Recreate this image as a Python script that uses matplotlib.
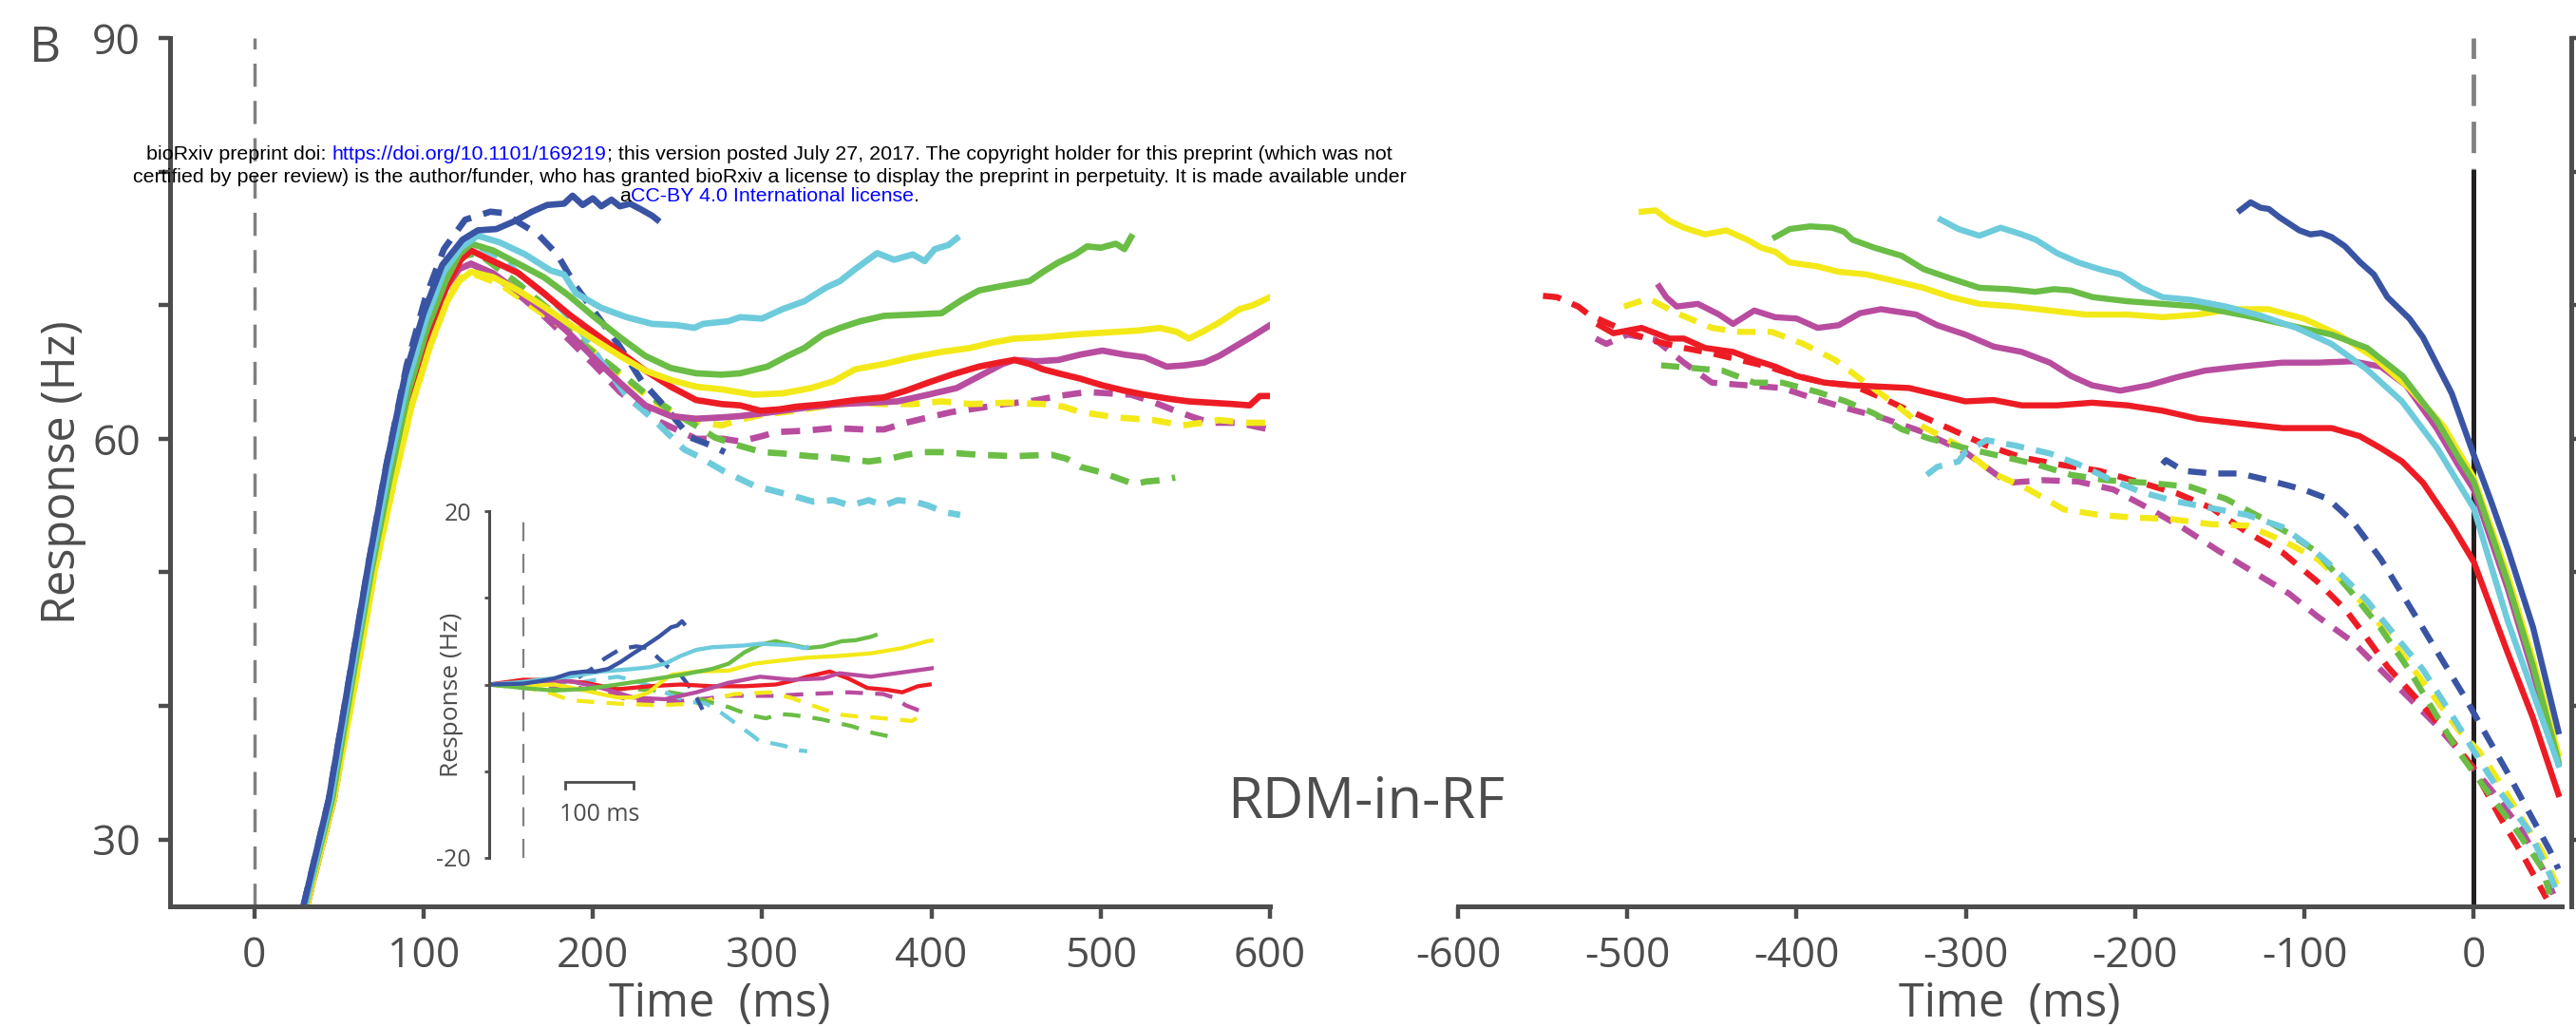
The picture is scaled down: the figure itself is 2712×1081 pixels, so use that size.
import matplotlib
matplotlib.use('Agg')
import matplotlib.pyplot as plt
from matplotlib.transforms import IdentityTransform
import numpy as np

plt.rcParams['axes.unicode_minus'] = False
plt.rcParams['font.family'] = ['Open Sans', 'DejaVu Sans']

GREY = '#4d4d4d'
BLUE = '#3a54a4'
CYAN = '#6dcbdc'
GREEN = '#6abd45'
YELLOW = '#f3e919'
MAGENTA = '#b84c9f'
RED = '#ed1c24'

# ---- onset aligned (left panel): (time ms, response Hz)
on_blue_solid = [(29, 25), (44, 33), (56, 42), (67, 50.3), (78, 58), (89, 64.7), (100, 69.4), (111, 73), (123, 74.9),
                 (132, 75.6), (143, 75.7), (154, 76.3), (164, 77), (173, 77.5), (183, 77.6), (188, 78.2), (194, 77.5),
                 (200, 78), (205, 77.4), (211, 77.9), (216, 77.4), (222, 77.6), (228, 77.2), (235, 76.7), (238, 76.4)]
on_blue_dash = [(29, 25), (44, 33), (56, 42), (67, 50.3), (78, 58), (90, 65.5), (101, 70.5), (112, 74.2), (124.6, 76.4),
                (139.5, 77.0), (147, 76.9), (160, 75.9), (167.6, 75.3), (179, 73.8), (190, 71.4), (205, 68.8),
                (216, 66.9), (229, 64.3), (244, 62.2), (257.5, 60.1), (270, 59.5), (278, 59.0)]
on_cyan_solid = [(30, 25), (45, 33), (57, 42), (68, 50), (79, 57.5), (90, 64), (101, 68.8), (112, 72.5), (122, 74.3),
                 (132, 75.2), (145, 74.7), (160, 73.8), (175, 72.6), (183, 72.3), (190, 70.9), (205, 69.8), (220, 69.1),
                 (235, 68.6), (250, 68.5), (260, 68.3), (265, 68.6), (280, 68.8), (287, 69.1), (300, 69.0),
                 (312, 69.7), (325, 70.3), (337.5, 71.3), (346, 71.8), (355, 72.7), (368, 73.9), (378, 73.4),
                 (389, 73.8), (396, 73.3), (402, 74.2), (410, 74.5), (415, 75.0)]
on_cyan_dash = [(30, 25), (45, 33), (57, 42), (68, 50), (79, 57.5), (90, 63.8), (101, 68.5), (112, 72.0), (122, 74.0),
                (132, 74.4), (145, 73.6), (156, 72.4), (175, 70.5), (190, 68.6), (205, 65.8), (220, 63.2),
                (237, 61.3), (254, 59.2), (262, 58.7), (277, 57.6), (295, 56.5), (316, 55.8), (330, 55.3),
                (342, 55.4), (352, 55.0), (363, 55.4), (372, 55.0), (380, 55.4), (390, 55.3), (398, 55.0),
                (408, 54.5), (417, 54.3)]
on_green_solid = [(30, 25), (46, 33), (58, 42), (69, 50), (80, 57), (91, 63.5), (102, 68.2), (113, 71.8), (121, 73.8),
                  (128, 74.6), (141, 74.1), (156, 73.1), (171, 72.1), (186, 70.7), (201, 69.1), (216, 67.6),
                  (231, 66.2), (246, 65.3), (261, 64.9), (276, 64.8), (287, 64.9), (303, 65.4), (315, 66.2),
                  (325, 66.8), (336, 67.8), (346, 68.3), (358, 68.8), (372, 69.2), (390, 69.3), (406, 69.4),
                  (418, 70.4), (428, 71.1), (440, 71.4), (458, 71.8), (466, 72.5), (475, 73.2), (485, 73.8),
                  (492, 74.4), (500, 74.3), (509, 74.6), (514, 74.2), (518, 75.1)]
on_green_dash = [(30, 25), (46, 33), (58, 42), (69, 50), (80, 57), (91, 63.5), (102, 68.2), (113, 71.8), (121, 73.6),
                 (132, 73.9), (156, 71.6), (175, 69.6), (194, 67.1), (212.5, 65.3), (231, 63.4), (250, 61.8),
                 (262, 60.9), (272, 60.1), (286, 59.5), (300, 59.0), (312, 58.9), (328, 58.7), (342, 58.6),
                 (363, 58.3), (375, 58.5), (385, 58.8), (396, 59.0), (406, 59.0), (428, 58.8), (449, 58.7),
                 (471, 58.8), (480, 58.5), (488, 57.9), (500, 57.5), (509, 57.1), (520, 56.6), (527, 56.8),
                 (536, 56.9), (544, 57.1)]
on_yellow_solid = [(31, 25), (47, 33), (60, 42), (71, 50), (82, 56.5), (93, 62.5), (104, 67), (114, 70.3), (121, 71.8),
                   (128, 72.5), (141, 72.1), (156, 71.1), (171, 69.9), (186, 68.6), (201, 67.4), (216, 66.2),
                   (231, 65.1), (246, 64.4), (261, 63.9), (276, 63.7), (295, 63.3), (312, 63.4), (329, 63.8),
                   (342, 64.3), (355, 65.2), (372, 65.6), (389, 66.1), (406, 66.5), (423, 66.8), (436, 67.2),
                   (449, 67.5), (466, 67.6), (484, 67.8), (496, 67.9), (509, 68.0), (522, 68.1), (535, 68.3),
                   (545, 68.0), (552, 67.5), (560, 68.0), (570, 68.7), (582, 69.7), (590, 70.0), (600, 70.6)]
on_yellow_dash = [(31, 25), (47, 33), (60, 42), (71, 50), (82, 56.5), (93, 62.5), (104, 67), (114, 70.5), (121, 72.0),
                  (128, 72.4), (145, 71.6), (164, 69.9), (183, 68.3), (199, 66.7), (216, 64.8), (235, 62.9),
                  (254, 61.5), (262, 61.3), (276, 61.0), (286, 61.4), (300, 61.8), (320, 62.1), (340, 62.5),
                  (355, 62.7), (372, 62.6), (389, 62.6), (406, 62.8), (423, 62.6), (445, 62.7), (466, 62.6),
                  (478, 62.4), (488, 62.0), (499, 61.8), (509, 61.6), (520, 61.5), (531, 61.4), (540, 61.2),
                  (548, 61.0), (560, 61.2), (570, 61.4), (578, 61.3), (587, 61.2), (600, 61.2)]
on_red_solid = [(31, 25), (46, 33), (58, 42), (70, 50), (81, 57), (92, 63.3), (103, 68), (114, 71.5), (122, 73.4),
                (128, 74.1), (141, 73.3), (156, 72.4), (171, 70.9), (186, 69.3), (201, 67.9), (216, 66.5),
                (231, 65.1), (246, 63.9), (261, 62.9), (276, 62.6), (287, 62.5), (299, 62.1), (310, 62.2),
                (320, 62.4), (338, 62.6), (355, 62.9), (372, 63.1), (385, 63.6), (398, 64.2), (412, 64.8),
                (428, 65.4), (440, 65.7), (449, 65.9), (458, 65.6), (466, 65.2), (475, 64.9), (488, 64.5),
                (501, 64.0), (514, 63.6), (526, 63.3), (540, 63.0), (552, 62.8), (565, 62.7), (578, 62.6),
                (588, 62.5), (594, 63.2), (600, 63.2)]
on_magenta_solid = [(31, 25), (47, 33), (59, 42), (70, 50), (81, 57), (92, 63), (103, 67.8), (113, 71.3), (121, 72.7),
                    (128, 73.1), (141, 72.4), (156, 71.0), (171, 69.6), (186, 67.9), (201, 66.0), (216, 64.2),
                    (231, 62.5), (246, 61.7), (261, 61.5), (276, 61.6), (287, 61.7), (300, 61.9), (312, 62.1),
                    (330, 62.4), (346, 62.6), (363, 62.7), (380, 62.8), (398, 63.3), (415, 63.8), (430, 64.8),
                    (442, 65.6), (449, 65.9), (462, 65.8), (475, 65.9), (488, 66.3), (501, 66.6), (514, 66.3),
                    (526, 66.1), (539, 65.4), (550, 65.5), (561, 65.7), (570, 66.2), (578, 66.8), (590, 67.7),
                    (600, 68.5)]
on_magenta_dash = [(31, 25), (47, 33), (59, 42), (70, 50), (81, 57), (92, 63), (103, 67.8), (113, 71.3), (121, 72.7),
                   (128, 73.1), (141, 72.3), (156, 70.8), (171, 69.2), (186, 67.4), (201, 65.5), (216, 63.5),
                   (239, 61.3), (261, 60.0), (277, 60.0), (287, 59.8), (300, 60.2), (308, 60.5), (325, 60.6),
                   (342, 60.8), (360, 60.7), (372, 60.7), (385, 61.2), (398, 61.6), (412, 62.0), (428, 62.3),
                   (443, 62.6), (458, 62.8), (475, 63.2), (492, 63.5), (505, 63.4), (518, 63.3), (530, 62.8),
                   (544, 62.1), (555, 61.6), (565, 61.2), (582, 61.2), (592, 60.9), (600, 60.7)]

# ---- saccade aligned (right panel)
sa_blue_solid = [(-138, 77.1), (-131.8, 77.7), (-126, 77.3), (-121, 77.2), (-115, 76.6), (-109, 76.1), (-103, 75.6),
                 (-96.5, 75.3), (-90, 75.4), (-84, 75.1), (-76, 74.4), (-67, 73.2), (-59, 72.3), (-51, 70.6),
                 (-38, 69.0), (-30, 67.6), (-13, 63.4), (0, 58.8), (10, 55.4), (20, 51.8), (35, 45.9), (50, 38.1)]
sa_green_solid = [(-412.6, 75.1), (-404, 75.7), (-392, 75.9), (-379, 75.8), (-372, 75.5), (-367, 74.9), (-354, 74.3),
                  (-338, 73.7), (-325, 72.7), (-309, 72.0), (-292, 71.3), (-275, 71.2), (-259, 71.0), (-248, 71.2),
                  (-238, 71.1), (-225, 70.6), (-205, 70.3), (-184, 70.1), (-163, 69.9), (-134, 69.2), (-109, 68.5),
                  (-84, 67.8), (-63, 66.8), (-42, 64.7), (-22, 61.4), (-9, 58.6), (0, 56.8), (20, 49.3), (35, 43.0),
                  (50, 35.9)]
sa_yellow_solid = [(-491.6, 77.0), (-483.3, 77.1), (-474.9, 76.3), (-466.6, 75.8), (-454.1, 75.3), (-441.6, 75.6),
                   (-429.2, 74.9), (-420.9, 74.3), (-412.6, 74.0), (-404.2, 73.2), (-387.6, 72.9), (-375.1, 72.5),
                   (-358.5, 72.3), (-341.8, 71.8), (-325.2, 71.3), (-308.6, 70.6), (-292, 70.1), (-271.2, 69.9),
                   (-250.4, 69.6), (-229.6, 69.3), (-204.6, 69.3), (-183.8, 69.1), (-163, 69.3), (-142.2, 69.7),
                   (-121.4, 69.7), (-100.6, 69.0), (-79.8, 67.8), (-59, 66.1), (-38.2, 63.8), (-17.5, 60.9),
                   (0, 57.1), (20, 49.8), (35, 43.5), (50, 36.4)]
sa_cyan_solid = [(-314.8, 76.4), (-304.4, 75.7), (-292, 75.2), (-279.5, 75.8), (-267, 75.3), (-258.7, 74.9),
                 (-246.2, 73.9), (-233.7, 73.2), (-221.2, 72.7), (-208.8, 72.3), (-196.3, 71.3), (-183.8, 70.6),
                 (-167.2, 70.4), (-146.4, 69.9), (-125.6, 69.2), (-104.8, 68.3), (-84, 67.1), (-63.2, 65.2),
                 (-42.4, 62.8), (-21.6, 59.3), (0, 54.8), (20, 46.4), (35, 41.0), (50, 35.6)]
sa_magenta_solid = [(-481.2, 71.4), (-477, 70.6), (-470.8, 69.9), (-458.3, 70.1), (-445.8, 69.3), (-437.5, 68.6),
                    (-425, 69.6), (-412.6, 69.1), (-400, 69.0), (-387.6, 68.3), (-375.1, 68.5), (-362.6, 69.4),
                    (-350.2, 69.7), (-329.4, 69.3), (-316.9, 68.5), (-300.3, 67.8), (-283.6, 66.9), (-267, 66.5),
                    (-250.4, 65.7), (-237.9, 64.7), (-225.4, 64.0), (-208.8, 63.6), (-192.1, 64.0), (-175.5, 64.6),
                    (-158.8, 65.1), (-138.1, 65.4), (-113.1, 65.7), (-92.2, 65.7), (-71.5, 65.8), (-54.9, 65.4),
                    (-40, 64.0), (-22, 60.8), (-9, 58.0), (0, 56.2), (20, 48.8), (35, 42.5), (50, 35.7)]
sa_red_solid = [(-516.5, 68.5), (-508.2, 67.9), (-491.6, 68.3), (-475, 67.5), (-466.6, 67.5), (-454.1, 66.8),
                (-437.5, 66.5), (-425, 65.9), (-412.6, 65.4), (-400, 64.7), (-383.4, 64.2), (-366.8, 64.0),
                (-350.2, 63.9), (-333.5, 63.8), (-316.9, 63.3), (-300.3, 62.8), (-283.6, 62.9), (-267, 62.5),
                (-246.2, 62.5), (-225.4, 62.7), (-204.6, 62.5), (-183.8, 62.1), (-163, 61.5), (-142.2, 61.2),
                (-113.1, 60.8), (-84, 60.8), (-67.4, 60.2), (-54.9, 59.3), (-42.4, 58.3), (-29.9, 56.7),
                (-13.3, 53.6), (0, 50.8), (20, 44.0), (35, 39.1), (50, 33.4)]
sa_blue_dash = [(-183.8, 58.1), (-181.8, 58.4), (-171.4, 57.6), (-154.7, 57.4), (-138.1, 57.4), (-121.4, 56.9),
                (-100.6, 56.2), (-86, 55.5), (-71.5, 53.8), (-59, 51.7), (-54.9, 51.0), (-42.4, 48.4),
                (-29.9, 45.8), (-17.5, 43.2), (-5, 40.6), (7.5, 37.8), (20, 35.0), (32.4, 32.1), (44.9, 29.2),
                (50, 27.8)]
sa_cyan_dash = [(-323.1, 57.3), (-316.9, 57.9), (-304.4, 58.3), (-300.3, 59.0), (-287.8, 59.9), (-271.2, 59.5),
                (-250.4, 58.9), (-233.7, 58.1), (-217.1, 57.1), (-196.3, 56.0), (-175.5, 55.3), (-154.7, 54.8),
                (-133.9, 54.3), (-113.1, 53.4), (-96.5, 51.9), (-79.8, 50.0), (-63.2, 47.9), (-46.6, 45.3),
                (-29.9, 42.7), (-13.3, 39.4), (-0.8, 36.8), (15.8, 33.5), (32.4, 30.7), (44.9, 27.4), (50, 25.8)]
sa_green_dash = [(-480, 65.5), (-443.8, 65.1), (-425, 64.2), (-408.4, 64.2), (-387.6, 63.5), (-371, 62.8),
                 (-354.3, 61.9), (-337.7, 60.7), (-321.1, 60.0), (-300.3, 59.3), (-279.5, 58.7), (-258.7, 58.1),
                 (-237.9, 57.3), (-217.1, 56.9), (-192.1, 56.7), (-167.2, 56.4), (-146.4, 55.5), (-125.6, 54.1),
                 (-109, 52.9), (-92.3, 51.5), (-71.5, 48.4), (-54.9, 45.8), (-38.2, 42.7), (-21.6, 39.2),
                 (-9.1, 36.6), (7.5, 33.7), (24.1, 30.9), (40.8, 27.8), (44.9, 25.9)]
sa_yellow_dash = [(-502, 69.9), (-487.4, 70.5), (-470.8, 69.4), (-450, 68.3), (-433.4, 68.0), (-414.6, 68.0),
                  (-396, 67.1), (-377.2, 65.9), (-362.6, 64.5), (-341.8, 62.6), (-325.2, 60.9), (-304.4, 59.5),
                  (-283.6, 57.4), (-262.8, 56.2), (-242, 54.7), (-221.2, 54.3), (-200.4, 54.1), (-179.6, 54.0),
                  (-154.7, 53.6), (-133.9, 53.5), (-113.1, 52.4), (-92.3, 51.0), (-75.7, 49.1), (-59, 46.7),
                  (-42.4, 43.9), (-25.8, 41.1), (-9.1, 38.2), (3.3, 36.6), (15.8, 34.2), (28.3, 31.6),
                  (40.8, 29.0), (49.1, 26.6)]
sa_magenta_dash = [(-518.6, 67.5), (-512.4, 67.1), (-499.9, 67.8), (-483.3, 67.4), (-466.6, 65.7), (-450, 64.2),
                   (-429.2, 64.0), (-408.4, 63.8), (-391.8, 63.1), (-371, 62.3), (-350.2, 61.6), (-325.2, 60.5),
                   (-300.3, 59.0), (-275.3, 56.7), (-254.5, 56.9), (-233.7, 56.8), (-212.9, 56.2), (-192.1, 54.8),
                   (-171.4, 53.3), (-150.6, 51.6), (-129.8, 50.0), (-109, 48.4), (-92.3, 46.7), (-71.5, 44.8),
                   (-54.9, 42.7), (-38.2, 40.6), (-21.6, 38.5), (-5, 36.1), (11.7, 33.5), (28.3, 30.7),
                   (40.8, 27.8), (47, 25.9)]
sa_red_dash = [(-549.8, 70.7), (-541.5, 70.6), (-529, 69.9), (-522.8, 69.3), (-512.4, 68.7), (-495.7, 67.8),
               (-483.3, 67.3), (-466.6, 66.8), (-450, 66.4), (-433.4, 65.9), (-416.7, 65.4), (-400, 64.7),
               (-383.4, 64.2), (-366.8, 64.0), (-350.2, 63.1), (-333.5, 62.1), (-308.6, 60.7), (-287.8, 59.5),
               (-267, 58.6), (-246.2, 58.1), (-221.2, 57.6), (-196.3, 56.7), (-175, 55.9), (-154.7, 54.8),
               (-133.9, 53.0), (-113.1, 51.5), (-92.3, 49.3), (-75.7, 47.2), (-63.2, 45.1), (-50.7, 42.9),
               (-34.1, 40.6), (-17.5, 38.2), (0, 35.3), (15, 31.8), (30, 28.6), (43, 25.6)]

# ---- inset: response change from baseline (Hz)
in_blue_solid = [(-50, 0), (0, 0.1), (25, 0.4), (45, 0.7), (68, 1.3), (90, 1.5), (105, 1.5), (124, 1.8), (142, 2.6),
                 (161, 3.6), (179, 4.5), (198, 5.5), (216, 6.6), (225, 6.8), (232, 7.3), (235, 7.0)]
in_blue_dash = [(-50, 0), (0, 0.1), (50, 0.3), (80, 0.8), (100, 1.8), (119, 3.0), (142, 4.1), (165, 4.4), (182, 4.2),
                (198, 3.0), (212, 2.0), (230, 1.1), (249, -0.9), (262, -2.9)]
in_cyan_solid = [(-50, 0), (0, 0.3), (24, 0.55), (68, 0.9), (114, 1.5), (161, 1.8), (185, 2.0), (207, 2.4), (230, 3.3),
                 (253, 4.0), (276, 4.3), (300, 4.4), (323, 4.5), (346, 4.7), (374, 4.6), (392, 4.5), (411, 4.2),
                 (415, 4.3)]
in_cyan_dash = [(-50, 0), (0, 0.2), (40, 0.3), (82, 0.2), (110, 0.6), (138, 0.9), (160, 0.5), (188, -0.2), (207, -0.9),
                (225, -1.5), (244, -2.0), (267, -2.2), (290, -3.3), (309, -4.4), (337, -6.0), (346, -6.6),
                (365, -6.8), (383, -7.1), (392, -7.5), (415, -7.7)]
in_green_solid = [(-50, 0), (0, -0.4), (45, -0.7), (91, -0.5), (138, 0), (184, 0.55), (230, 1.1), (276, 1.8),
                  (300, 2.4), (323, 3.7), (346, 4.6), (369, 5.0), (392, 4.6), (415, 4.2), (438, 4.4), (466, 5.0),
                  (485, 5.1), (508, 5.5), (515, 5.7)]
in_green_dash = [(-50, 0), (0, -0.4), (50, -0.6), (100, -0.6), (150, -0.5), (200, -0.7), (230, -1.1), (253, -1.6),
                 (276, -2.1), (300, -2.6), (313, -3.0), (335, -3.6), (355, -3.9), (374, -3.4), (392, -3.5),
                 (411, -3.7), (435, -4.0), (457, -4.4), (480, -4.8), (499, -5.3), (512, -5.6), (536, -6.0)]
in_yellow_solid = [(-50, 0), (0, -0.2), (45, 0), (91, -0.7), (125, -1.3), (138, -1.5), (161, -1.5), (184, -0.9),
                   (200, 0.2), (216, 1.1), (253, 1.5), (300, 1.6), (337, 2.4), (369, 2.7), (415, 3.1), (462, 3.3),
                   (508, 3.6), (554, 4.2), (591, 5.0), (600, 5.1)]
in_yellow_dash = [(-50, 0), (0, -0.3), (40, -1.0), (68, -1.8), (100, -2.0), (138, -2.2), (170, -2.3), (198, -2.4),
                  (225, -2.3), (253, -2.2), (280, -1.6), (309, -1.1), (335, -1.0), (360, -0.9), (390, -1.5),
                  (415, -2.2), (440, -2.9), (466, -3.5), (490, -3.7), (512, -3.8), (540, -4.0), (568, -4.2),
                  (577, -3.8)]
in_red_solid = [(-50, 0), (0, 0.55), (45, 0.5), (91, 0.2), (138, -0.55), (184, -0.2), (230, 0), (276, -0.2),
                (323, -0.2), (369, 0), (392, 0.4), (415, 0.9), (448, 1.5), (475, 0.7), (503, -0.4), (531, -0.6),
                (554, -0.9), (577, -0.2), (594, 0)]
in_magenta_solid = [(-50, 0), (0, 0), (68, 0.4), (114, -0.4), (161, -1.5), (207, -1.7), (253, -0.9), (300, 0.2),
                    (346, 0.9), (392, 0.55), (438, 0.7), (462, 1.3), (508, 0.9), (545, 1.3), (591, 1.8), (600, 1.9)]
in_magenta_dash = [(-50, 0), (0, 0), (82, -0.4), (120, -1.0), (161, -1.9), (230, -1.9), (270, -1.6), (300, -1.3),
                   (369, -1.3), (415, -1.1), (475, -0.9), (526, -1.1), (545, -1.6), (559, -2.4), (582, -3.1)]

onset_curves = [(on_magenta_dash, MAGENTA, True), (on_yellow_dash, YELLOW, True), (on_green_dash, GREEN, True),
                (on_cyan_dash, CYAN, True), (on_blue_dash, BLUE, True),
                (on_magenta_solid, MAGENTA, False), (on_red_solid, RED, False), (on_yellow_solid, YELLOW, False),
                (on_green_solid, GREEN, False), (on_cyan_solid, CYAN, False), (on_blue_solid, BLUE, False)]
sacc_curves = [(sa_magenta_dash, MAGENTA, True), (sa_red_dash, RED, True), (sa_yellow_dash, YELLOW, True),
               (sa_green_dash, GREEN, True), (sa_cyan_dash, CYAN, True), (sa_blue_dash, BLUE, True),
               (sa_magenta_solid, MAGENTA, False), (sa_red_solid, RED, False), (sa_yellow_solid, YELLOW, False),
               (sa_green_solid, GREEN, False), (sa_cyan_solid, CYAN, False), (sa_blue_solid, BLUE, False)]
inset_curves = [(in_magenta_dash, MAGENTA, True), (in_yellow_dash, YELLOW, True), (in_green_dash, GREEN, True),
                (in_cyan_dash, CYAN, True), (in_blue_dash, BLUE, True),
                (in_red_solid, RED, False), (in_magenta_solid, MAGENTA, False), (in_yellow_solid, YELLOW, False),
                (in_green_solid, GREEN, False), (in_cyan_solid, CYAN, False), (in_blue_solid, BLUE, False)]

y_ticks = [30, 40, 50, 60, 70, 80, 90]
y_ticklabels = ['30', '', '', '60', '', '', '90']
onset_xticks = [0, 100, 200, 300, 400, 500, 600]
sacc_xticks = [-600, -500, -400, -300, -200, -100, 0]
inset_yticks = [-20, -10, 0, 10, 20]
inset_yticklabels = ['-20', '', '', '', '20']

W, H = 2712, 1081
fig = plt.figure(figsize=(W / 100, H / 100), dpi=100)


def px_box(x0, x1, ytop, ybot):
    return [x0 / W, 1 - ybot / H, (x1 - x0) / W, (ybot - ytop) / H]


def draw_curves(ax, curves, lw, dash):
    for pts, col, dashed in curves:
        a = np.array(pts)
        ax.plot(a[:, 0], a[:, 1], color=col, lw=lw, ls=(0, dash) if dashed else '-',
                solid_joinstyle='round', dash_capstyle='butt')


def style_axis(ax):
    for s in ax.spines.values():
        s.set_linewidth(3.6)
        s.set_color(GREY)
    ax.tick_params(direction='out', length=9, width=3.2, colors=GREY, labelsize=32, pad=13)


ax1 = fig.add_axes(px_box(178.6, 1337, 40, 954))
ax2 = fig.add_axes(px_box(1535, 2697, 40, 954))
axi = fig.add_axes(px_box(515, 983, 538, 903))
for ax in (ax1, ax2, axi):
    ax.patch.set_alpha(0)

# left panel
style_axis(ax1)
ax1.spines[['top', 'right']].set_visible(False)
ax1.set_xlim(-50, 600)
ax1.set_ylim(25, 90)
ax1.set_xticks(onset_xticks)
ax1.set_yticks(y_ticks)
ax1.set_yticklabels(y_ticklabels)
ax1.axvline(0, color='#808080', lw=2.5, ls=(0, (7, 4.3)), zorder=1)
draw_curves(ax1, onset_curves, 4.8, (3, 2))
ax1.set_xlabel('Time  (ms)', fontsize=35, color=GREY, va='baseline')
ax1.xaxis.set_label_coords(0.5, -0.127)
ax1.set_ylabel('Response (Hz)', fontsize=35, color=GREY, va='center')
ax1.yaxis.set_label_coords(-0.097, 0.5)

# right panel
style_axis(ax2)
ax2.spines[['top', 'left']].set_visible(False)
ax2.spines['right'].set_position(('outward', 7.2))
ax2.set_xlim(-600, 52)
ax2.set_ylim(25, 90)
ax2.set_xticks(sacc_xticks)
ax2.set_yticks(y_ticks)
ax2.yaxis.set_ticks_position('right')
ax2.tick_params(axis='y', labelright=False, length=5)
ax2.axvline(0, color='#808080', lw=3.4, ls=(0, (7, 3.5)), zorder=1)
ax2.plot([0, 0], [25, 80], color='#231f20', lw=3.6, zorder=1)
draw_curves(ax2, sacc_curves, 4.6, (3, 2))
ax2.set_xlabel('Time  (ms)', fontsize=35, color=GREY, va='baseline')
ax2.xaxis.set_label_coords(0.5, -0.127)

# inset
axi.spines[['top', 'right', 'bottom']].set_visible(False)
axi.spines['left'].set_linewidth(2.2)
axi.spines['left'].set_color(GREY)
axi.set_xlim(-50, 600)
axi.set_ylim(-20, 20)
axi.set_xticks([])
axi.set_yticks(inset_yticks)
axi.set_yticklabels(inset_yticklabels)
axi.tick_params(direction='out', length=3.6, width=2, colors=GREY, labelsize=18, pad=10)
axi.plot([0, 0], [-20, 20], color='#808080', lw=1.6, ls=(0, (9, 6)))
draw_curves(axi, inset_curves, 3.1, (4.3, 3))
axi.set_ylabel('Response (Hz)', fontsize=19, color=GREY, va='center')
axi.yaxis.set_label_coords(-0.085, 0.47)
bar_t0, bar_len, bar_v = 61, 100, -11.2
axi.plot([bar_t0, bar_t0, bar_t0 + bar_len, bar_t0 + bar_len], [bar_v - 0.8, bar_v, bar_v, bar_v - 0.8],
         color=GREY, lw=2, solid_joinstyle='miter')
axi.text(bar_t0 + bar_len / 2, -15.7, '100 ms', fontsize=18, color=GREY, ha='center', va='baseline')

# panel letter and condition label
ident = IdentityTransform()
fig.text(48, H - 65, 'B', transform=ident, fontsize=37, color=GREY, ha='center', va='baseline')
fig.text(1438, H - 861, 'RDM-in-RF', transform=ident, fontsize=43, color=GREY, ha='center', va='baseline')

# bioRxiv stamp, mixed colour lines centred at x=810
stamp = [
    [('bioRxiv preprint doi: ', 'black'), ('https://doi.org/10.1101/169219', '#0000ff'),
     ('; this version posted July 27, 2017. The copyright holder for this preprint (which was not', 'black')],
    [('certified by peer review) is the author/funder, who has granted bioRxiv a license to display the preprint '
      'in perpetuity. It is made available under', 'black')],
    [('a', 'black'), ('CC-BY 4.0 International license', '#0000ff'), ('.', 'black')],
]
stamp_y = [163, 186, 207]
renderer = fig.canvas.get_renderer()


def text_width(s, size):
    t = fig.text(0, 0, s, transform=ident, fontsize=size, family='Liberation Sans')
    w = t.get_window_extent(renderer).width
    t.remove()
    return w


size = 13.5
full1 = ''.join(p for p, _ in stamp[0])
size = size * 1309 / text_width(full1, size)
xw = text_width('x', size)
for parts, yc in zip(stamp, stamp_y):
    full = ''.join(p for p, _ in parts)
    x0 = 810 - text_width(full, size) / 2
    prefix = ''
    for s, col in parts:
        off = text_width(prefix + 'x', size) - xw if prefix else 0
        fig.text(x0 + off, H - yc, s, transform=ident, fontsize=size, family='Liberation Sans',
                 color=col, ha='left', va='center')
        prefix += s

fig.savefig('out.png', dpi=100)
